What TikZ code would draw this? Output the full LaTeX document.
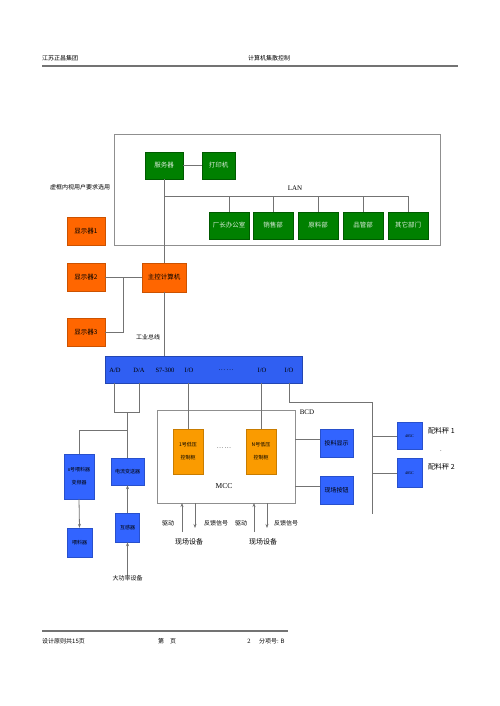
\documentclass[tikz,border=0pt]{standalone}
\usepackage{fontspec}
\setmainfont{Liberation Serif}
\newfontfamily\cjk{Noto Sans CJK SC}
\usepackage{tikz}
\usetikzlibrary{arrows.meta}

\definecolor{lanGreen}{RGB}{0,128,0}
\definecolor{hostOrange}{RGB}{255,102,0}
\definecolor{mccOrange}{RGB}{250,155,0}
\definecolor{ioBlue}{RGB}{50,100,255}
\definecolor{wireGray}{RGB}{115,115,115}

\begin{document}
\begin{tikzpicture}[
  x=1pt, y=-1pt,
  font=\cjk\fontsize{6.5}{8}\selectfont,
  box/.style={draw, inner sep=1pt, align=center},
  gbox/.style={box, fill=lanGreen, draw=lanGreen!70!black, text=white!85!lanGreen, minimum width=40pt, minimum height=27pt},
  obox/.style={box, fill=hostOrange, draw=hostOrange!80!black, minimum width=38pt, minimum height=28pt},
  mbox/.style={box, fill=mccOrange, draw=mccOrange!80!black, minimum width=30pt, minimum height=45pt, font=\cjk\fontsize{5}{6}\selectfont},
  bbox/.style={box, fill=ioBlue, draw=ioBlue!80!black, font=\cjk\fontsize{5}{6}\selectfont},
  wire/.style={draw=wireGray, line width=0.8pt},
  frame/.style={draw=wireGray!80, line width=0.6pt},
  arr/.style={wire, -{Stealth[length=4pt,width=3pt]}},
  lbl/.style={inner sep=0pt, font=\cjk\fontsize{6}{7}\selectfont},
  buslbl/.style={inner sep=0pt, font=\fontsize{6.5}{8}\selectfont}
]
\useasboundingbox (0,0) rectangle (499,706);

% header and footer
\node[lbl, anchor=west] (hdrL) at (42,58) {江苏正昌集团};
\node[lbl, anchor=west] (hdrR) at (248,58) {计算机集散控制};
\draw[wireGray, line width=1.5pt] (42,66) -- (458,66);
\draw[wireGray, line width=1.5pt] (42,631) -- (288,631);
\node[lbl, anchor=west] (ftA) at (42,641) {设计原则共15页};
\node[lbl] (ftB) at (167,641) {第\quad 页};
\node[buslbl] (ftC) at (249,641) {2};
\node[lbl, anchor=west] (ftD) at (259,641) {分项号: B};

% management LAN (dashed frame in original)
\draw[frame] (114,134) rectangle (440,245);
\node[lbl] (note) at (80,187) {虚框内视用户要求选用};
\node[gbox, minimum width=38pt] (srv) at (164,165.5) {服务器};
\node[gbox, minimum width=33pt] (prn) at (218.5,165.5) {打印机};
\node[gbox] (dep1) at (229,225.5) {厂长办公室};
\node[gbox] (dep2) at (273,225.5) {销售部};
\node[gbox] (dep3) at (318,225.5) {原料部};
\node[gbox] (dep4) at (363,225.5) {品管部};
\node[gbox] (dep5) at (408,225.5) {其它部门};
\coordinate (lanL) at (164,196);
\coordinate (lanR) at (408,196);
\node[buslbl, font=\fontsize{7}{8}\selectfont] (lan) at (295,188) {LAN};
\draw[wire] (srv) -- (prn);
\draw[wire] (lanL) -- (lanR);
\foreach \d in {dep1,dep2,dep3,dep4,dep5}
  \draw[wire] (\d.north) -- (\d.north |- lanL);

% host computer and displays
\node[obox] (disp1) at (86,231) {显示器1};
\node[obox] (disp2) at (86,277.5) {显示器2};
\node[obox] (disp3) at (86,332) {显示器3};
\node[obox, minimum width=44pt, minimum height=29pt] (host) at (164,277.5) {主控计算机};
\coordinate (dispJ) at (123,277.5);
\draw[wire] (srv.south) -- (host.north);
\draw[wire] (disp2.east) -- (host.west);
\draw[wire] (disp3.east) -| (dispJ);
\node[lbl] (fbus) at (148,337) {工业总线};

% PLC bus
\node[box, fill=ioBlue!95!black, draw=ioBlue!70!black, minimum width=197pt, minimum height=27pt] (bus) at (203.5,369.5) {};
\node[buslbl] (ad) at (115,370) {A/D};
\node[buslbl] (da) at (139,370) {D/A};
\node[buslbl] (s7) at (165,370) {S7-300};
\node[buslbl] (io1) at (189,370) {I/O};
\node[buslbl] (dots) at (226,370) {\cjk … …};
\node[buslbl] (io2) at (262,370) {I/O};
\node[buslbl] (io3) at (289,370) {I/O};
\draw[wire] (host.south) -- (host.south |- bus.north);

% analog side
\node[bbox, minimum width=30pt, minimum height=45pt] (vfd) at (79,476.5) {x号喂料器\\[7pt]变频器};
\node[bbox, minimum width=33pt, minimum height=27pt] (ctx) at (127.5,471.5) {电流变送器};
\node[bbox, minimum width=25pt, minimum height=29pt] (feed) at (79.5,542.5) {喂料器};
\node[bbox, minimum width=24pt, minimum height=29pt] (ct) at (127.5,527.5) {互感器};
\node[lbl] (load) at (127.5,578) {大功率设备};
\coordinate (adB) at (114,412);
\coordinate (daB) at (139,412);
\coordinate (anaM) at (127.5,412);
\coordinate (anaJ) at (127.5,430);
\draw[wire] (adB |- bus.south) -- (adB) -- (daB) -- (daB |- bus.south);
\draw[wire] (anaM) -- (ctx.north);
\draw[wire] (anaJ) -| (vfd.north);
\draw[arr] (vfd.south) -- (feed.north);
\draw[arr] (ct.north) -- (ctx.south);
\draw[arr] (load.north) -- (ct.south);

% MCC
\draw[frame] (157,410) rectangle (295,503);
\node[mbox] (lv1) at (188,451.5) {1号低压\\[7pt]控制柜};
\node[mbox] (lvN) at (261,451.5) {N号低压\\[7pt]控制柜};
\node[lbl] (lvdots) at (224,448) {… …};
\node[buslbl, font=\fontsize{7.5}{9}\selectfont] (mcc) at (224,486) {MCC};
\draw[wire] (lv1.north |- bus.south) -- (lv1.north);
\draw[wire] (lvN.north |- bus.south) -- (lvN.north);
\foreach \x/\n in {182/a,254/b} {
  \coordinate (up\n) at (\x,532);
  \coordinate (dn\n) at (\x+13,528);
  \draw[arr] (up\n) -- (up\n |- 0,503);
  \draw[arr] (dn\n |- 0,503) -- (dn\n);
}
\node[lbl] (drvA) at (168,523) {驱动};
\node[lbl] (fbA) at (216,523) {反馈信号};
\node[lbl, font=\cjk\fontsize{7}{8}\selectfont] (fldA) at (189,542) {现场设备};
\node[lbl] (drvB) at (241,523) {驱动};
\node[lbl] (fbB) at (286,523) {反馈信号};
\node[lbl, font=\cjk\fontsize{7}{8}\selectfont] (fldB) at (263,542) {现场设备};

% BCD branch
\coordinate (bcdA) at (289,402);
\coordinate (bcdB) at (372,402);
\coordinate (bcdC) at (372,514);
\coordinate (mccR1) at (295,439);
\coordinate (mccR2) at (295,486);
\draw[wire] (bcdA |- bus.south) -- (bcdA) -- (bcdB) -- (bcdC);
\node[buslbl, font=\fontsize{7}{8}\selectfont] (bcd) at (307,412) {BCD};
\node[bbox, minimum width=33pt, minimum height=28pt, font=\cjk\fontsize{6}{7}\selectfont] (bshow) at (336.5,443) {投料显示};
\node[bbox, minimum width=33pt, minimum height=28pt, font=\cjk\fontsize{6}{7}\selectfont] (bbtn) at (336.5,490) {现场按钮};
\draw[wire] (mccR1) -- (mccR1 -| bshow.west);
\draw[wire] (mccR2) -- (mccR2 -| bbtn.west);
\node[bbox, minimum width=25pt, minimum height=27pt, font=\fontsize{4}{5}\selectfont] (rs1) at (409.5,436) {485C};
\node[bbox, minimum width=25pt, minimum height=29pt, font=\fontsize{4}{5}\selectfont] (rs2) at (409.5,473) {485C};
\draw[wire] (rs1.west) -- (rs1.west -| bcdB);
\draw[wire] (rs2.west) -- (rs2.west -| bcdB);
\node[lbl, anchor=west, font=\cjk\fontsize{7}{8}\selectfont] (sc1) at (428,431) {配料秤 1};
\node[lbl] (scdot) at (441,451) {.};
\node[lbl, anchor=west, font=\cjk\fontsize{7}{8}\selectfont] (sc2) at (428,467) {配料秤 2};
\end{tikzpicture}
\end{document}
